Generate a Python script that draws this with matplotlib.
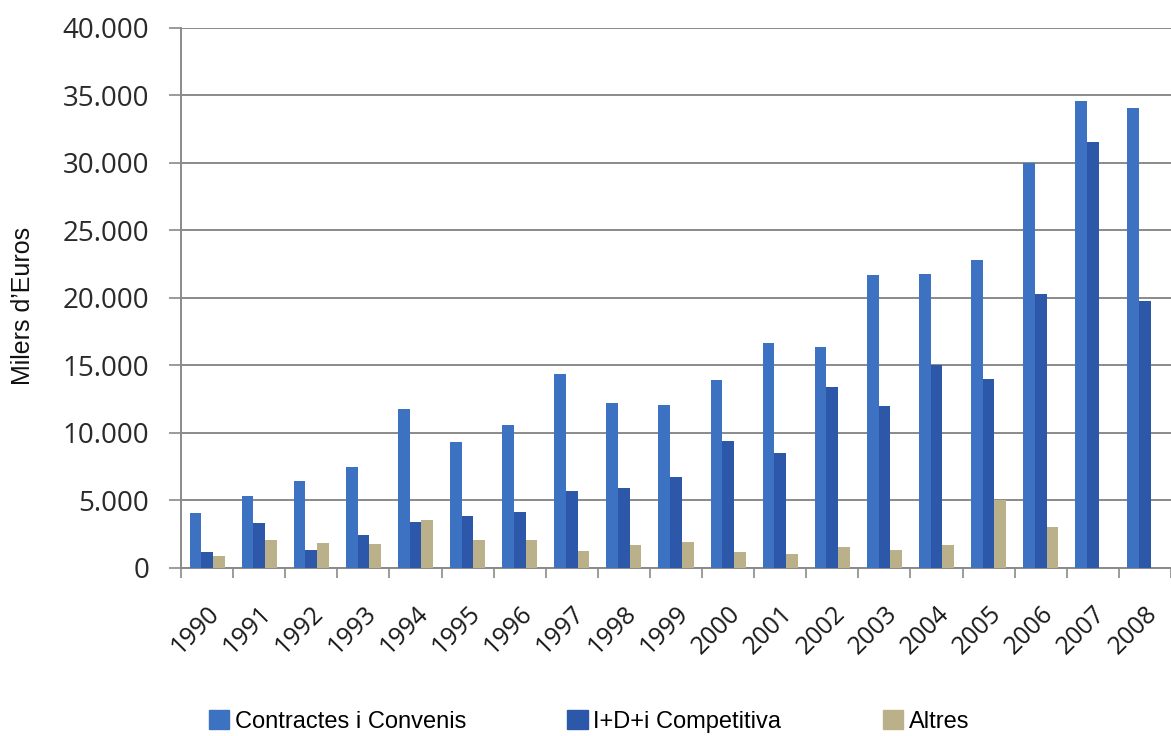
import numpy as np
import matplotlib
matplotlib.use("Agg")
import matplotlib.pyplot as plt
import matplotlib.ticker as mticker
from matplotlib.patches import Patch

# Data (milers d'euros)
years = [str(y) for y in range(1990, 2009)]
contractes = [4050, 5350, 6450, 7480, 11800, 9350, 10600, 14400, 12200, 12100,
              13900, 16700, 16400, 21700, 21800, 22800, 30000, 34600, 34100]
competitiva = [1150, 3350, 1330, 2420, 3430, 3880, 4150, 5730, 5950, 6720,
               9430, 8520, 13400, 12000, 15000, 14000, 20300, 31550, 19800]
altres = [890, 2050, 1880, 1780, 3530, 2050, 2070, 1260, 1680, 1950,
          1160, 1010, 1560, 1360, 1680, 5040, 3010, 0, 0]

series_labels = ["Contractes i Convenis", "I+D+i Competitiva", "Altres"]
colors = ["#3D72C2", "#2D58AA", "#BAB08A"]

fig = plt.figure(figsize=(11.71, 7.36), dpi=100)
ax = fig.add_axes([0.1546, 0.2283, 0.8454, 0.7337])

x = np.arange(len(years))
w = 0.225
for i, (vals, col) in enumerate(zip([contractes, competitiva, altres], colors)):
    ax.bar(x + (i - 1) * w, vals, width=w, color=col, zorder=3)

ax.set_ylim(0, 40000)
ax.set_xlim(-0.5, 18.34)
ax.yaxis.set_major_locator(mticker.MultipleLocator(5000))

def format_func(value, _):
    return f"{int(value):,}".replace(",", ".")

ax.yaxis.set_major_formatter(mticker.FuncFormatter(format_func))
ax.grid(axis="y", color="#8a8a8a", linewidth=1.4, zorder=0)

for side in ["top", "right"]:
    ax.spines[side].set_visible(False)
for side in ["left", "bottom"]:
    ax.spines[side].set_color("#8a8a8a")
    ax.spines[side].set_linewidth(1.4)

# labels at category centres, tick marks at boundaries
ax.set_xticks(x)
ax.set_xticklabels(years, rotation=45, ha="right", rotation_mode="anchor",
                   fontsize=18, color="#1a1a1a", family="Open Sans")
ax.tick_params(axis="x", which="major", length=0, pad=24)
ax.set_xticks(np.arange(-0.5, len(years), 1.0), minor=True)
ax.tick_params(axis="x", which="minor", length=7, width=1.2, color="#8a8a8a")

ax.tick_params(axis="y", length=9, width=1.2, color="#8a8a8a", pad=14,
               labelsize=20, labelcolor="#2a2a2a")
for lab in ax.get_yticklabels():
    lab.set_family("Open Sans")

fig.text(0.0196, 0.584, "Milers d\u2019Euros", rotation=90, va="center", ha="center",
         fontsize=18, family="Liberation Sans", color="#111111")

handles = [Patch(color=c) for c in colors]
fig.legend(handles, series_labels, loc="center", bbox_to_anchor=(0.503, 0.02),
           ncol=3, frameon=False, prop={"family": "Liberation Sans", "size": 17},
           handlelength=0.85, handleheight=0.85, handletextpad=0.25, columnspacing=4.3)

fig.savefig("out.png", dpi=100)
